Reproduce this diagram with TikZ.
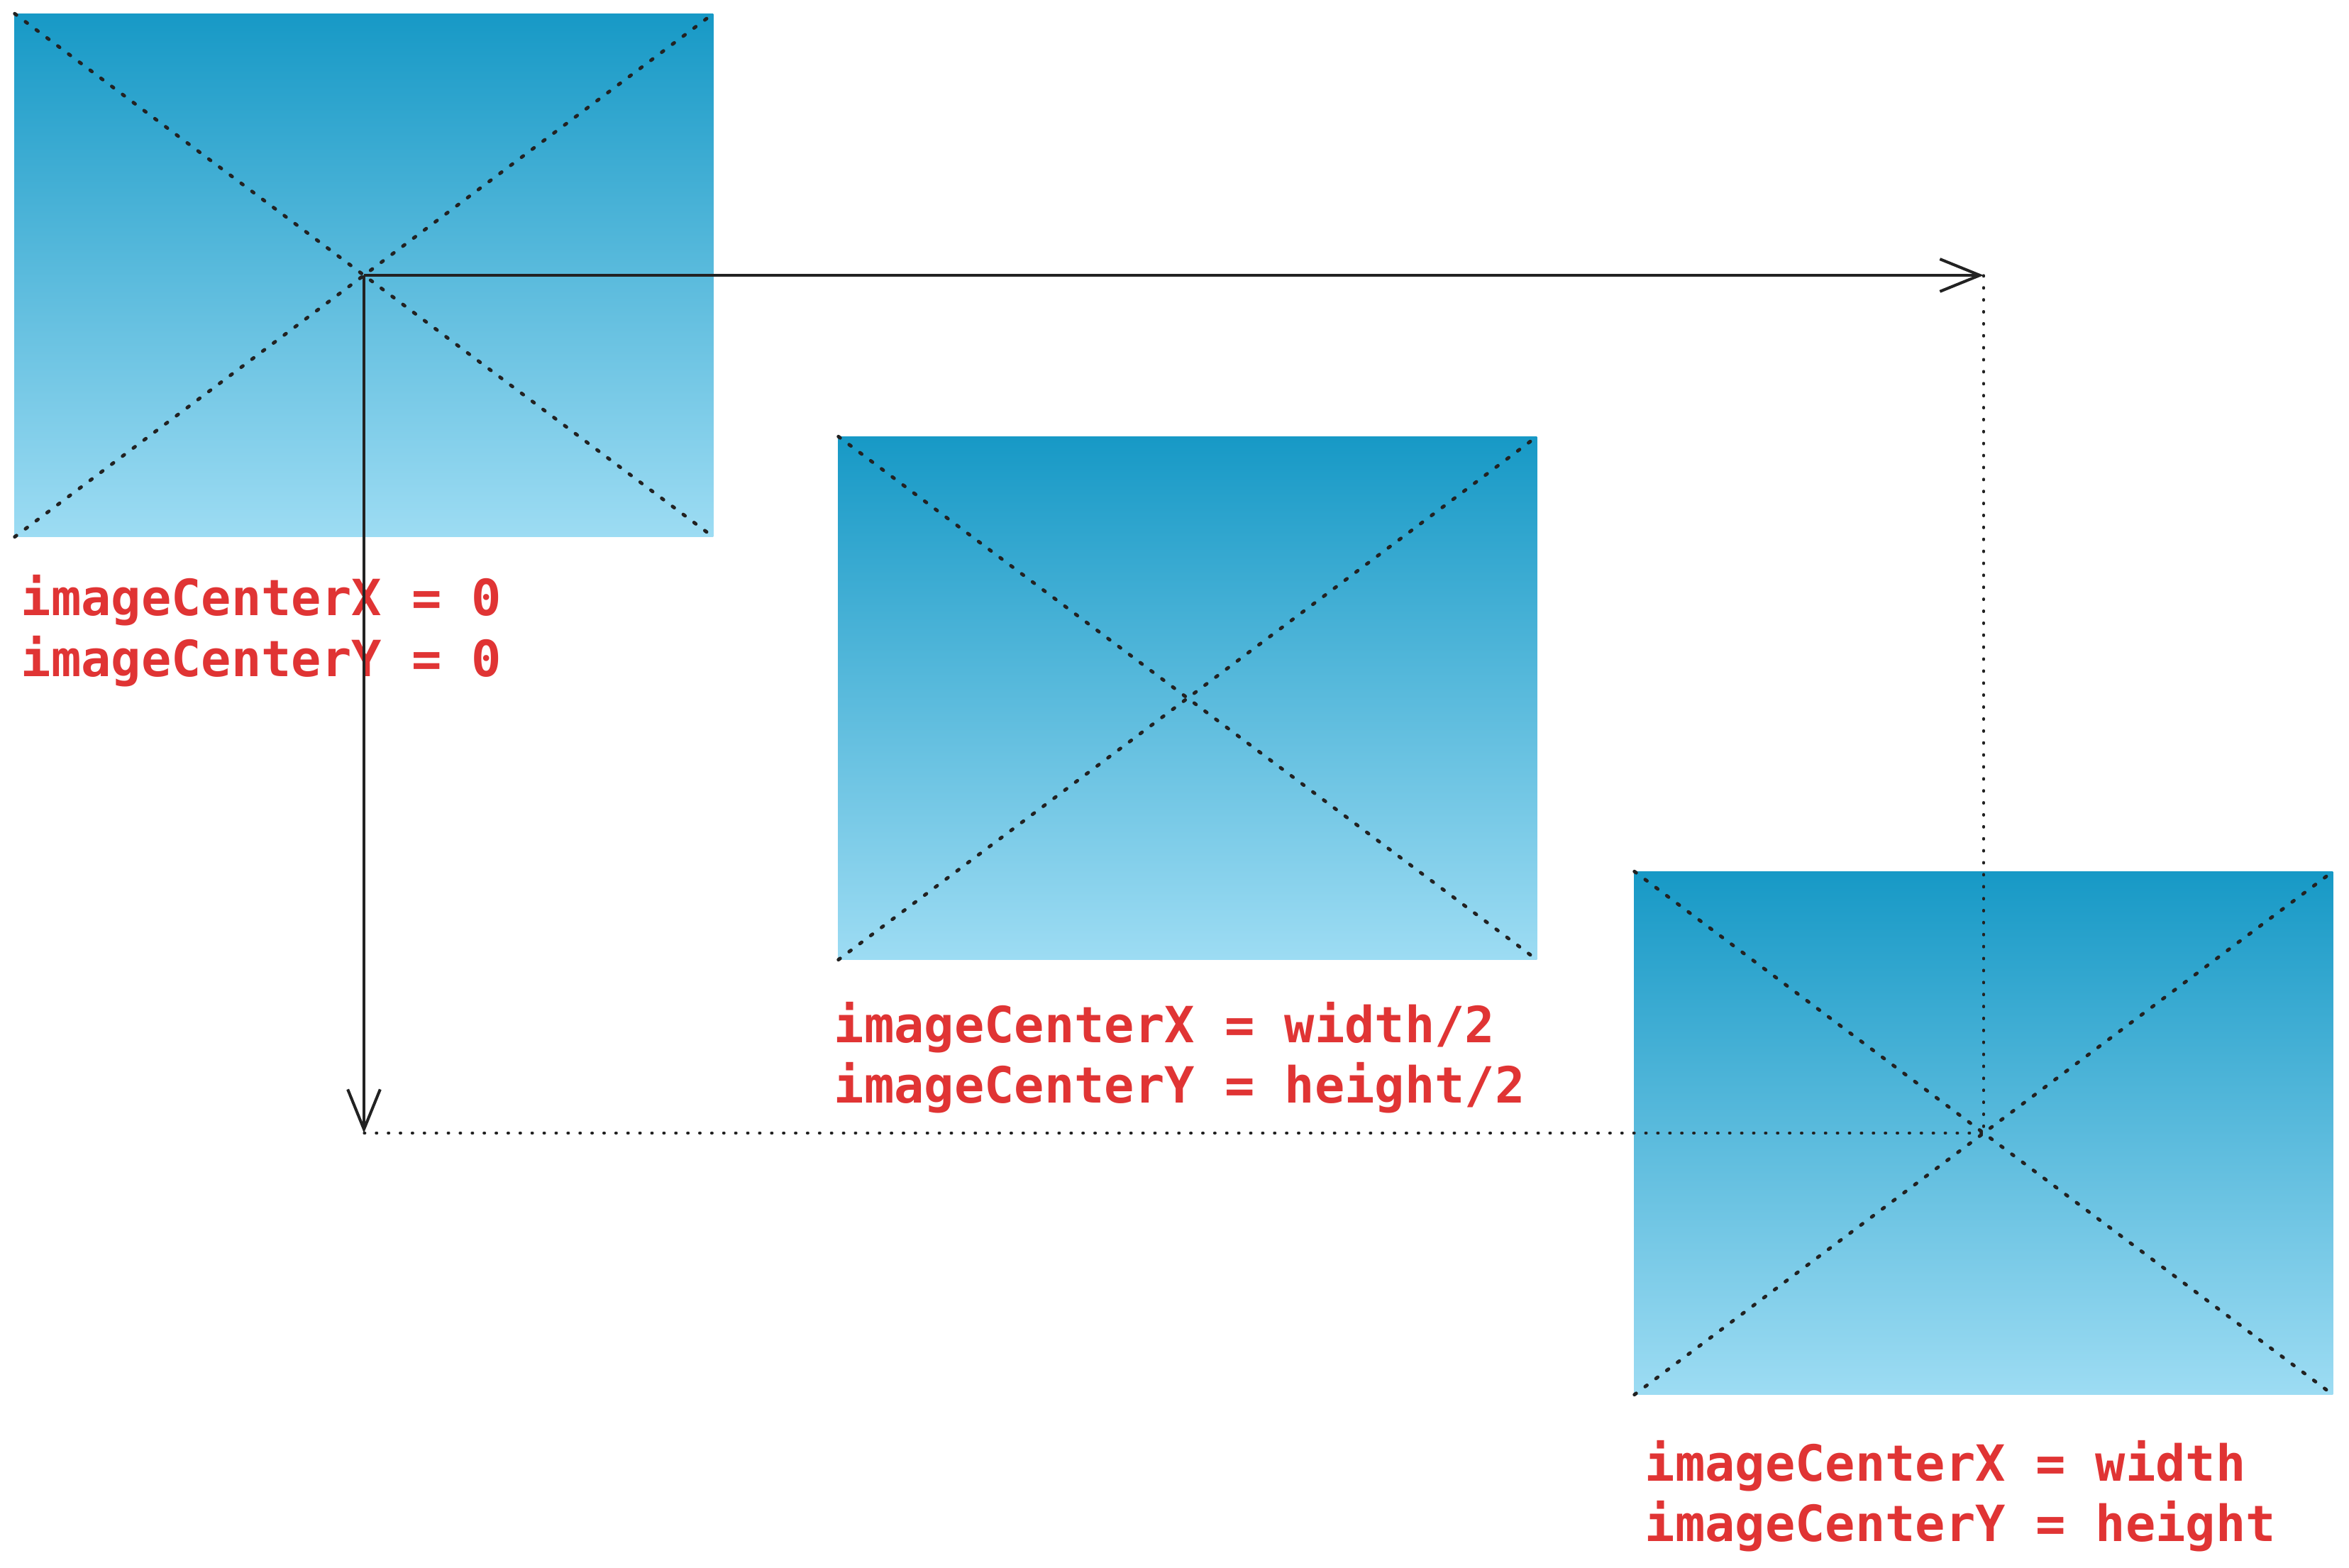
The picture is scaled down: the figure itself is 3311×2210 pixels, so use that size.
\documentclass[tikz,border=0pt]{standalone}
\usepackage{fontspec}
\setmonofont{DejaVu Sans Mono}
\usetikzlibrary{arrows.meta}
\definecolor{imgtop}{RGB}{23,153,198}
\definecolor{imgbot}{RGB}{157,220,243}
\definecolor{lblred}{RGB}{224,52,52}
\definecolor{ink}{RGB}{34,34,34}
\tikzset{
  picbox/.style={minimum width=9.84cm, minimum height=7.37cm, inner sep=0,
    outer sep=0, top color=imgtop, bottom color=imgbot},
  diag/.style={ink, line width=1.4pt, line cap=round,
    dash pattern=on 0.9pt off 4.5pt},
  guide/.style={ink, line width=0.9pt, line cap=round,
    dash pattern=on 0.5pt off 4.3pt},
  axis/.style={ink, line width=1.15pt,
    -{Straight Barb[length=16pt, width=13pt]}},
  lbl/.style={text=lblred, inner sep=0, anchor=base west,
    font=\fontsize{20}{24.2}\selectfont\ttfamily\bfseries},
}
\newcommand\twolines[2]{\begin{tabular}[t]{@{}l@{}}#1\\#2\end{tabular}}

\begin{document}
\begin{tikzpicture}[x=0.01cm, y=-0.01cm]
  \useasboundingbox (0,0) rectangle (3311,2210);

  \node[picbox] (img1) at (513,388) {};
  \node[picbox] (img2) at (1674,984) {};
  \node[picbox] (img3) at (2796,1597) {};

  \draw[diag] (img1.north west) -- (img1.south east);
  \draw[diag] (img1.south west) -- (img1.north east);
  \draw[diag] (img2.north west) -- (img2.south east);
  \draw[diag] (img2.south west) -- (img2.north east);
  \draw[diag] (img3.north west) -- (img3.south east);
  \draw[diag] (img3.south west) -- (img3.north east);

  \node[lbl] (lbl1) at (29,868) {\twolines{imageCenterX = 0}{imageCenterY = 0}};
  \node[lbl] (lbl2) at (1175,1469)
    {\twolines{imageCenterX = width/2}{imageCenterY = height/2}};
  \node[lbl] (lbl3) at (2318,2087)
    {\twolines{imageCenterX = width}{imageCenterY = height}};

  \coordinate (tipx) at (img3.center |- img1.center);
  \coordinate (tipy) at (img1.center |- img3.center);
  \draw[guide] (tipx) -- (img3.center);
  \draw[guide] (tipy) -- (img3.center);

  \draw[axis] (img1.center) -- (tipx);
  \draw[axis] (img1.center) -- (tipy);
\end{tikzpicture}
\end{document}
